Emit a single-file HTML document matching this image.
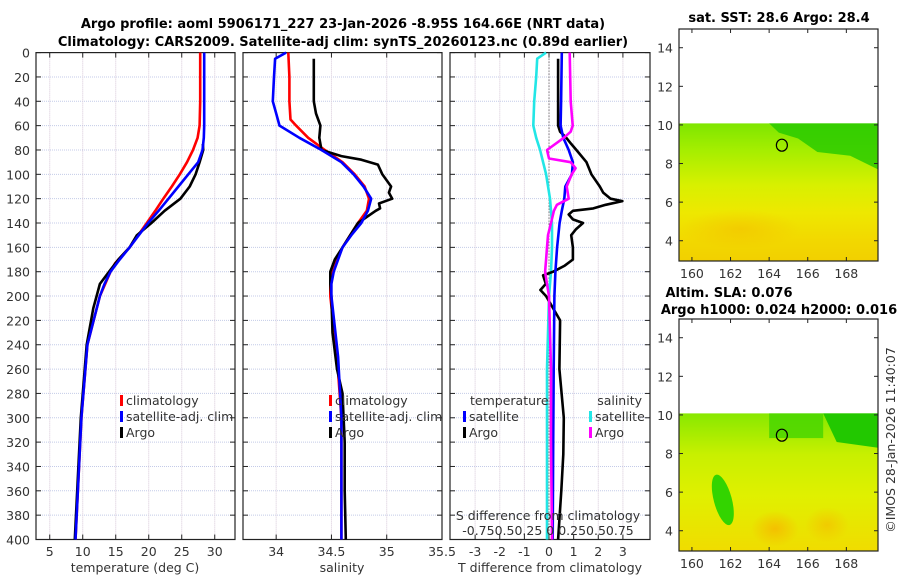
<!DOCTYPE html>
<html><head><meta charset="utf-8">
<style>
html,body{margin:0;padding:0;background:#fff;}
svg{display:block;font-family:"DejaVu Sans","Liberation Sans",sans-serif;}
.tk{font-size:12.5px;fill:#333;}
.tt{font-size:13px;font-weight:bold;fill:#000;}
</style></head>
<body>
<svg id="chart" width="900" height="580" viewBox="0 0 900 580" xmlns="http://www.w3.org/2000/svg">
<defs>
<linearGradient id="g1" x1="0" y1="0" x2="0" y2="1">
<stop offset="0" stop-color="#7ee600"/><stop offset="0.2" stop-color="#a6ee00"/><stop offset="0.45" stop-color="#d8f000"/><stop offset="0.65" stop-color="#eee800"/><stop offset="0.85" stop-color="#f2d800"/><stop offset="1" stop-color="#f2d000"/>
</linearGradient>
<linearGradient id="g2" x1="0" y1="0" x2="0" y2="1">
<stop offset="0" stop-color="#88e800"/><stop offset="0.3" stop-color="#c8f000"/><stop offset="0.6" stop-color="#e0f000"/><stop offset="1" stop-color="#f0dc00"/>
</linearGradient>
<radialGradient id="or1" cx="0.5" cy="0.5" r="0.5"><stop offset="0" stop-color="#f4c000"/><stop offset="1" stop-color="#f4c000" stop-opacity="0"/></radialGradient>
</defs>
<g id="main"></g>
</svg>
<script>
// ---------- data ----------
const depthTicks = [0,20,40,60,80,100,120,140,160,180,200,220,240,260,280,300,320,340,360,380,400];
const tempTicks = [5,10,15,20,25,30];
const salTicks = [34,34.5,35,35.5];
const tdiffTicks = [-3,-2,-1,0,1,2,3];
const lonTicks = [160,162,164,166,168];
const latTicks = [4,6,8,10,12,14];

const tempClimDepth = [0,20,40,60,70,80,90,100,110,120,130,140,150,160,173,180,200,240,300,400];
const tempClimVal   = [27.8,27.8,27.8,27.7,27.4,26.7,25.8,24.7,23.5,22.2,21.0,19.7,18.4,17.1,14.9,14.2,12.6,10.7,9.8,8.9];
const tempSatDepth  = [0,20,40,60,70,80,90,100,110,120,130,140,150,160,170,180,190,200,240,300,400];
const tempSatVal    = [28.4,28.4,28.4,28.4,28.35,28.15,27.5,26.0,24.5,23.0,21.5,19.9,18.5,17.1,15.6,14.2,13.3,12.6,10.7,9.8,8.9];
const tempArgoDepth = [75,80,90,100,110,120,130,140,150,160,170,180,190,200,210,240,300,400];
const tempArgoVal   = [28.2,28.25,27.7,27.1,26.2,24.8,22.4,20.4,18.2,17.1,15.4,14.0,12.6,12.1,11.6,10.6,9.7,8.8];

const salClimDepth = [0,20,40,55,60,70,80,90,100,110,120,130,140,150,160,170,180,190,200,250,300,400];
const salClimVal   = [34.11,34.12,34.12,34.13,34.18,34.29,34.44,34.60,34.71,34.80,34.84,34.82,34.74,34.67,34.60,34.55,34.51,34.49,34.49,34.55,34.59,34.59];
const salSatDepth  = [0,5,20,40,50,60,70,80,90,100,110,120,130,140,150,160,170,180,190,200,250,300,400];
const salSatVal    = [34.09,33.99,33.98,33.97,34.0,34.03,34.21,34.41,34.59,34.70,34.79,34.86,34.83,34.77,34.68,34.60,34.56,34.52,34.50,34.50,34.56,34.59,34.59];
const salArgoDepth = [5,40,50,60,70,80,85,88,92,100,110,115,120,124,128,130,140,150,160,170,180,190,200,230,260,280,320,360,400];
const salArgoVal   = [34.34,34.34,34.36,34.40,34.39,34.41,34.59,34.77,34.92,34.96,35.04,35.02,35.05,34.93,34.94,34.90,34.74,34.67,34.60,34.53,34.49,34.49,34.50,34.51,34.55,34.60,34.62,34.62,34.63];

const dTSatDepth  = [0,40,60,70,80,90,100,110,120,130,140,160,180,200,260,320,400];
const dTSatVal    = [0.52,0.49,0.47,0.58,0.80,0.97,0.93,0.66,0.62,0.52,0.43,0.33,0.26,0.22,0.19,0.17,0.15];
const dTArgoDepth = [5,40,60,65,70,75,80,90,100,110,115,120,122,125,128,130,133,137,140,145,150,160,170,175,180,183,190,195,200,220,260,300,330,360,400];
const dTArgoVal   = [0.37,0.37,0.37,0.45,0.70,0.90,1.11,1.52,1.72,2.06,2.20,2.50,2.98,2.30,1.80,0.97,0.80,0.97,1.38,1.10,0.90,0.97,0.97,0.64,0.17,-0.24,-0.13,-0.35,-0.12,0.45,0.42,0.60,0.58,0.50,0.37];
const dSSatDepth  = [0,5,20,40,60,70,80,90,100,120,140,160,180,200,260,320,400];
const dSSatVal    = [-0.03,-0.12,-0.13,-0.15,-0.16,-0.13,-0.09,-0.06,-0.03,0.01,0.03,0.03,0.02,0.0,-0.02,-0.02,-0.02];
const dSArgoDepth = [0,40,60,65,70,80,87,90,95,100,110,120,125,130,140,150,160,170,180,190,200,260,320,400];
const dSArgoVal   = [0.21,0.22,0.24,0.22,0.15,-0.02,0.0,0.22,0.27,0.23,0.18,0.20,0.08,0.05,0.02,-0.01,-0.02,-0.03,-0.04,-0.02,0.0,0.02,0.02,0.03];

const floatLon = 164.66, floatLat = 8.95;

// ---------- helpers ----------
const NS = "http://www.w3.org/2000/svg";
const root = document.getElementById('main');
function mk(tag, attrs, parent){ const e=document.createElementNS(NS,tag); for(const k in attrs) e.setAttribute(k,attrs[k]); (parent||root).appendChild(e); return e; }
function txt(x,y,s,cls,anchor,parent){ const t=mk('text',{x:x,y:y,class:cls,'text-anchor':anchor||'middle'},parent); t.textContent=s; return t; }

const Y0=52.6, Y1=539.5;
const yD = d => Y0 + d*(Y1-Y0)/400;

function panel(name, x0, x1, vmin, vmax, xt, xlabels){
  const g = mk('g',{});
  
  
  const xs = v => x0 + (v-vmin)*(x1-x0)/(vmax-vmin);
  depthTicks.forEach(d=>{ if(d>0&&d<400){ const l=mk('line',{x1:x0,x2:x1,y1:yD(d),y2:yD(d),stroke:'#c4cbe8','stroke-width':1,'stroke-dasharray':'1,1'},g);
    
     }
    mk('line',{x1:x0,x2:x0+5,y1:yD(d),y2:yD(d),stroke:'#222'},g);
    mk('line',{x1:x1-5,x2:x1,y1:yD(d),y2:yD(d),stroke:'#222'},g); });
  xt.forEach((v,i)=>{ const x=xs(v);
    const l=mk('line',{x1:x,x2:x,y1:Y0,y2:Y1,stroke:'#d6c8d8','stroke-width':1,'stroke-dasharray':'1,1'},g);
    
    
    mk('line',{x1:x,x2:x,y1:Y0,y2:Y0+5,stroke:'#222'},g);
    mk('line',{x1:x,x2:x,y1:Y1-5,y2:Y1,stroke:'#222'},g);
    const t=txt(x,556,xlabels?xlabels[i]:String(v),'tk','middle',g);
    
     });
  const b=mk('rect',{x:x0,y:Y0,width:x1-x0,height:Y1-Y0,fill:'none',stroke:'#222','stroke-width':1.2},g);
  
  
  return {g,xs};
}
function series(p, depths, vals, color, name, w){
  const pts = depths.map((d,i)=>p.xs(vals[i]).toFixed(1)+','+yD(d).toFixed(1)).join(' ');
  const l = mk('polyline',{points:pts,fill:'none',stroke:color,'stroke-width':w||2.6,'stroke-linejoin':'round'},p.g);
  
  
}
function legend(p, x, y, color, label, name){
  const g=mk('g',{},p.g);
  
  
  mk('rect',{x:x,y:y-10,width:3,height:11,fill:color},g);
  txt(x+6,y,label,'tk','start',g);
}

// ---------- titles ----------
let t=txt(343,28,'Argo profile: aoml 5906171_227 23-Jan-2026 -8.95S 164.66E (NRT data)','tt');


t=txt(343,46,'Climatology: CARS2009. Satellite-adj clim: synTS_20260123.nc (0.89d earlier)','tt');



depthTicks.forEach(d=>{ const l=txt(30,yD(d)+5,String(d),'tk','end');
  
   });

// ---------- panel 1 temperature ----------
const p1 = panel('temperature-panel',36,235,2.92,33.07,tempTicks);
series(p1,tempClimDepth,tempClimVal,'#ff0000','temp-climatology-line');
series(p1,tempArgoDepth,tempArgoVal,'#000000','temp-argo-line');
series(p1,tempSatDepth,tempSatVal,'#0000ff','temp-satellite-line');
t=txt(135,572,'temperature (deg C)','tk');  
legend(p1,120,405,'#ff0000','climatology','legend-climatology');
legend(p1,120,421,'#0000ff','satellite-adj. clim','legend-satellite-clim');
legend(p1,120,437,'#000000','Argo','legend-argo');

// ---------- panel 2 salinity ----------
const p2 = panel('salinity-panel',243,442,33.7,35.5,salTicks);
series(p2,salClimDepth,salClimVal,'#ff0000','sal-climatology-line');
series(p2,salArgoDepth,salArgoVal,'#000000','sal-argo-line');
series(p2,salSatDepth,salSatVal,'#0000ff','sal-satellite-line');
t=txt(342,572,'salinity','tk');  
legend(p2,329,405,'#ff0000','climatology','legend-climatology-sal');
legend(p2,329,421,'#0000ff','satellite-adj. clim','legend-satellite-clim-sal');
legend(p2,329,437,'#000000','Argo','legend-argo-sal');

// ---------- panel 3 differences ----------
const p3 = panel('difference-panel',450,650,-4.02,4.1,tdiffTicks);
const z = p3.xs(0);
const zl=mk('line',{x1:z,x2:z,y1:Y0,y2:Y1,stroke:'#444','stroke-width':1,'stroke-dasharray':'1,2'},p3.g);


const p3s = {g:p3.g, xs: v => p3.xs(v*4)};
series(p3s,dSSatDepth,dSSatVal,'#22e6e6','sdiff-satellite-line');
series(p3,dTArgoDepth,dTArgoVal,'#000000','tdiff-argo-line');
series(p3,dTSatDepth,dTSatVal,'#0000ff','tdiff-satellite-line');
series(p3s,dSArgoDepth,dSArgoVal,'#ff00ff','sdiff-argo-line');
t=txt(550,572,'T difference from climatology','tk');  
t=txt(548,520,'S difference from climatology','tk');  
t=txt(548,535,'-0.750.50.25 0 0.250.50.75','tk');  
t=txt(470,405,'temperature','tk','start',p3.g);  
t=txt(642,405,'salinity','tk','end',p3.g);  
legend(p3,463,421,'#0000ff','satellite','legend-tdiff-satellite');
legend(p3,463,437,'#000000','Argo','legend-tdiff-argo');
legend(p3,589,421,'#22e6e6','satellite','legend-sdiff-satellite');
legend(p3,589,437,'#ff00ff','Argo','legend-sdiff-argo');

// ---------- maps ----------
function mapPanel(name, top, bottom, grad, extras){
  const g=mk('g',{});
  
  
  const L=679,R=878, lon0=159.33, lon1=169.64, lat0=2.95, lat1=14.97;
  const xs=v=>L+(v-lon0)*(R-L)/(lon1-lon0);
  const ys=v=>bottom-(v-lat0)*(bottom-top)/(lat1-lat0);
  mk('rect',{x:L,y:ys(10.08),width:R-L,height:bottom-ys(10.08),fill:'url(#'+grad+')'},g);
  extras(g,xs,ys);
  const c=mk('ellipse',{cx:xs(floatLon),cy:ys(floatLat),rx:5.5,ry:6,fill:'none',stroke:'#000','stroke-width':1.2},g);
  
  
  mk('rect',{x:L,y:top,width:R-L,height:bottom-top,fill:'none',stroke:'#222','stroke-width':1.2},g);
  lonTicks.forEach(v=>{ const x=xs(v); mk('line',{x1:x,x2:x,y1:top,y2:top+4,stroke:'#222'},g); mk('line',{x1:x,x2:x,y1:bottom-4,y2:bottom,stroke:'#222'},g);
    const l=txt(x,bottom+17,String(v),'tk','middle',g);   });
  latTicks.forEach(v=>{ const y=ys(v); mk('line',{x1:L,x2:L+4,y1:y,y2:y,stroke:'#222'},g); mk('line',{x1:R-4,x2:R,y1:y,y2:y,stroke:'#222'},g);
    const l=txt(L-6,y+5,String(v),'tk','end',g);   });
}
mapPanel('sst-map',29,261,'g1',(g,xs,ys)=>{
  mk('polygon',{points:[xs(164),ys(10.08),xs(169.64),ys(10.08),xs(169.64),ys(7.7),xs(168.2),ys(8.4),xs(166.5),ys(8.6),xs(165.5),ys(9.3),xs(164.5),ys(9.6)].join(' '),fill:'#22c800',opacity:0.8},g);
  mk('ellipse',{cx:xs(162.5),cy:ys(4.6),rx:60,ry:20,fill:'url(#or1)',opacity:0.6},g);
});
mapPanel('sla-map',319,551,'g2',(g,xs,ys)=>{
  mk('polygon',{points:[xs(166.8),ys(10.08),xs(169.64),ys(10.08),xs(169.64),ys(8.3),xs(167.5),ys(8.6)].join(' '),fill:'#22c800'},g);
  mk('rect',{x:xs(164),y:ys(10.08),width:xs(166.8)-xs(164),height:ys(8.8)-ys(10.08),fill:'#44d400',opacity:0.8},g);
  mk('ellipse',{cx:xs(161.6),cy:ys(5.6),rx:9,ry:26,fill:'#33d400',transform:'rotate(-15 '+xs(161.6)+' '+ys(5.6)+')'},g);
  mk('ellipse',{cx:xs(164.3),cy:ys(4.1),rx:24,ry:18,fill:'url(#or1)'},g);
  mk('ellipse',{cx:xs(167),cy:ys(4.3),rx:22,ry:18,fill:'url(#or1)',opacity:0.7},g);
});
t=txt(779,22,'sat. SST: 28.6 Argo: 28.4','tt');  
t=txt(729,297,'Altim. SLA: 0.076','tt');  
t=txt(779,314,'Argo h1000: 0.024 h2000: 0.016','tt');  
t=mk('text',{x:0,y:0,class:'tk','text-anchor':'middle',transform:'translate(895,440) rotate(-90)'});
t.textContent='©IMOS 28-Jan-2026 11:40:07';


</script>
</body></html>
